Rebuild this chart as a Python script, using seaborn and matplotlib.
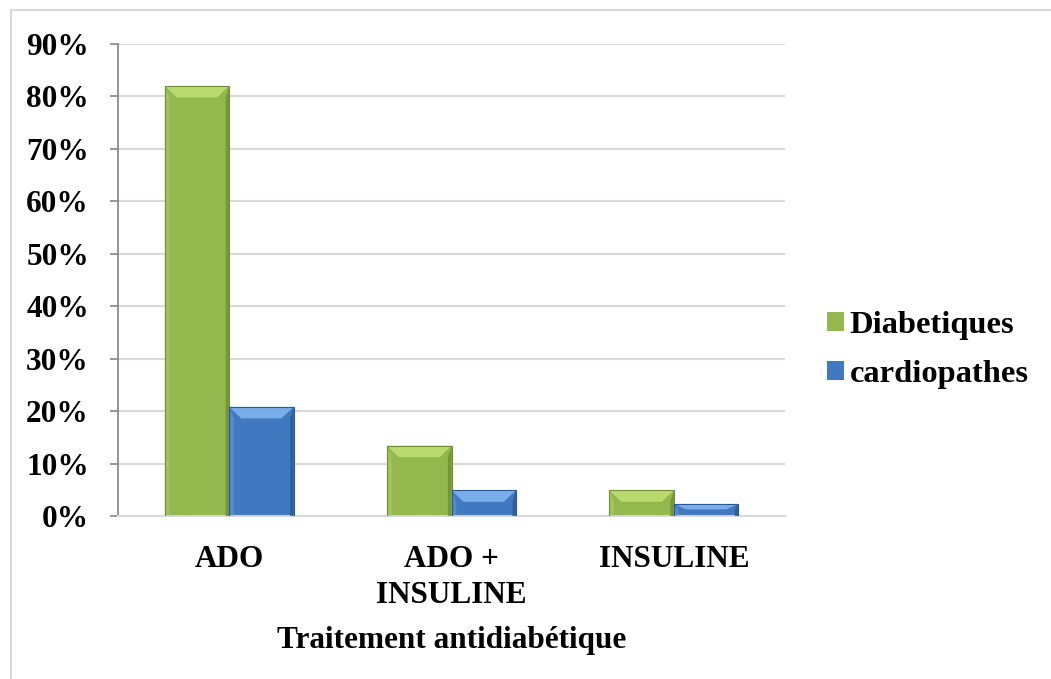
import matplotlib
matplotlib.use("Agg")
import matplotlib.pyplot as plt
import seaborn as sns
import pandas as pd
import numpy as np
from matplotlib.patches import Polygon, Rectangle
from matplotlib.ticker import PercentFormatter

categories = ["ADO", "ADO +\nINSULINE", "INSULINE"]
series_names = ["Diabetiques", "cardiopathes"]
diabetiques = [82.0, 13.4, 4.9]
cardiopathes = [20.8, 4.9, 2.3]
yticks = [0, 10, 20, 30, 40, 50, 60, 70, 80, 90]

df = pd.DataFrame({
    "cat": categories * 2,
    "serie": [series_names[0]] * 3 + [series_names[1]] * 3,
    "val": diabetiques + cardiopathes,
})

sns.set_theme(style="white")
plt.rcParams["font.family"] = ["Liberation Serif", "DejaVu Serif"]
plt.rcParams["font.weight"] = "bold"
plt.rcParams["text.color"] = "black"
plt.rcParams["xtick.color"] = "black"
plt.rcParams["ytick.color"] = "black"
plt.rcParams["axes.labelcolor"] = "black"

FS = 22.5
LFS = 23.4

fig = plt.figure(figsize=(10.51, 6.79), dpi=100)
ax = fig.add_axes([118/1051, 1-516/679, (785-118)/1051, (516-44)/679])

colors = {"Diabetiques": "#93B84E", "cardiopathes": "#4079C0"}
sns.barplot(data=df, x="cat", y="val", hue="serie", palette=colors,
            width=0.58, ax=ax, legend=True, saturation=1, edgecolor="none")

# bevel effect derived from the drawn bars
light = {"#93B84E": "#B9DB6E", "#4079C0": "#79AEEA"}
dark = {"#93B84E": "#6F8E32", "#4079C0": "#2A5A96"}
bars = [p for p in ax.patches if isinstance(p, Rectangle) and p.get_height() > 0]
trans = ax.transData
px_per_x = (trans.transform((1, 0))[0] - trans.transform((0, 0))[0])
px_per_y = (trans.transform((0, 1))[1] - trans.transform((0, 0))[1])
for p in bars:
    fc = matplotlib.colors.to_hex(p.get_facecolor()).upper()
    x0, y0 = p.get_x(), p.get_y()
    w, h = p.get_width(), p.get_height()
    d = 12
    dx = d / px_per_x
    dy = min(d / px_per_y, h * 0.45)
    x1, y1 = x0 + w, y0 + h
    lt = light.get(fc, "#dddddd")
    dk = dark.get(fc, "#555555")
    ax.add_patch(Polygon([(x0, y1), (x1, y1), (x1 - dx, y1 - dy), (x0 + dx, y1 - dy)],
                         closed=True, facecolor=lt, edgecolor="none", zorder=3))
    ax.add_patch(Polygon([(x0, y0), (x0, y1), (x0 + dx * 0.4, y1 - dy), (x0 + dx * 0.4, y0)],
                         closed=True, facecolor=lt, alpha=0.35, edgecolor="none", zorder=3))
    ax.add_patch(Polygon([(x1, y0), (x1, y1), (x1 - dx * 0.3, y1 - dy), (x1 - dx * 0.3, y0)],
                         closed=True, facecolor=dk, alpha=0.8, edgecolor="none", zorder=3))
    ax.add_patch(Rectangle((x0, y0), w, h, facecolor="none", edgecolor=dk,
                           linewidth=0.8, zorder=4))

ax.set_ylim(0, 90)
ax.set_xlim(-0.5, 2.5)
ax.set_yticks(yticks)
ax.yaxis.set_major_formatter(PercentFormatter(decimals=0))
ax.grid(axis="y", color="#D9D9D9", linewidth=1.5)
ax.set_axisbelow(True)
for s in ["top", "right"]:
    ax.spines[s].set_visible(False)
ax.spines["left"].set_color("#888888")
ax.spines["bottom"].set_color("#D9D9D9")
ax.spines["bottom"].set_linewidth(1.5)
ax.tick_params(axis="y", which="both", left=True, length=6, width=1.2, color="#888888",
               labelsize=FS, pad=15, labelcolor="black")
ax.tick_params(axis="x", bottom=False, labelsize=FS, pad=15, labelcolor="black")
for t in ax.get_yticklabels() + ax.get_xticklabels():
    t.set_fontweight("bold")
for t in ax.get_xticklabels():
    t.set_linespacing(1.3)
ax.set_ylabel("")
ax.set_xlabel("Traitement antidiabétique", fontsize=FS, fontweight="bold", labelpad=12,
              color="black")

leg = ax.legend(loc="center left", bbox_to_anchor=((827-118)/667, (516-350)/472), frameon=False,
                prop={"size": LFS, "weight": "bold"}, handlelength=0.52, handleheight=0.5,
                handletextpad=0.18, labelspacing=0.62, borderaxespad=0, borderpad=0)
for t in leg.get_texts():
    t.set_color("black")

fig.patches.append(Rectangle((10.5/1051, -0.1), 1.2, 1 - 10.5/679 + 0.1, transform=fig.transFigure,
                             facecolor="none", edgecolor="#D9D9D9", linewidth=1.5))

fig.savefig("out.png", dpi=100)
